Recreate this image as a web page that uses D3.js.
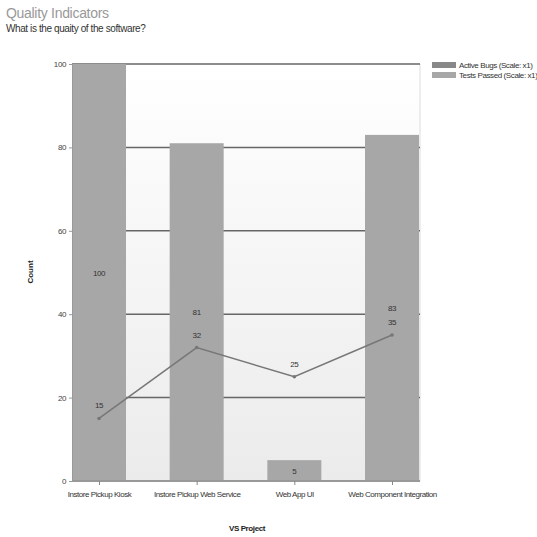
<!DOCTYPE html>
<html>
<head>
<meta charset="utf-8">
<script src="https://cdn.jsdelivr.net/npm/d3@7"></script>
<style>
  body { margin: 0; background: #fff; }
  text { font-family: "Liberation Sans", Arial, sans-serif; }
</style>
</head>
<body>
<svg id="chart" width="537" height="537"></svg>
<script>
// data
var projects = ["Instore Pickup Kiosk", "Instore Pickup Web Service", "Web App UI", "Web Component Integration"];
var testsPassed = [100, 81, 5, 83];
var activeBugs = [15, 32, 25, 35];
var yTicks = [0, 20, 40, 60, 80, 100];
var seriesNames = ["Active Bugs (Scale: x1)", "Tests Passed (Scale: x1)"];

var svg = d3.select("#chart");
var pLeft = 72, pRight = 420, pTop = 64, pBottom = 481;
var barW = 54;

var x = d3.scalePoint().domain(projects).range([pLeft + barW / 2, pRight - 1 - barW / 2]);
var y = d3.scaleLinear().domain([0, 100]).range([pBottom, pTop]);

// background gradient of the plot area
var grad = svg.append("defs").append("linearGradient")
    .attr("id", "bg").attr("x1", 0).attr("y1", 0).attr("x2", 0).attr("y2", 1);
grad.append("stop").attr("offset", "0%").attr("stop-color", "#ffffff");
grad.append("stop").attr("offset", "100%").attr("stop-color", "#ebebeb");

svg.append("rect")
    .attr("x", pLeft).attr("y", pTop)
    .attr("width", pRight - pLeft).attr("height", pBottom - pTop)
    .attr("fill", "url(#bg)");

svg.append("line")
    .attr("x1", pRight).attr("x2", pRight).attr("y1", pTop).attr("y2", pBottom)
    .attr("stroke", "#dddddd");

// gridlines
svg.selectAll(".grid")
    .data(yTicks.slice(1))
    .enter().append("line")
    .attr("class", "grid")
    .attr("x1", pLeft).attr("x2", pRight)
    .attr("y1", d => y(d)).attr("y2", d => y(d))
    .attr("stroke", "#666").attr("stroke-width", 1.5);

// bars
svg.selectAll(".bar")
    .data(testsPassed)
    .enter().append("rect")
    .attr("class", "bar")
    .attr("x", (d, i) => x(projects[i]) - barW / 2)
    .attr("y", d => y(d))
    .attr("width", barW)
    .attr("height", d => pBottom - y(d))
    .attr("fill", "#a7a7a7");

svg.selectAll(".barlabel")
    .data(testsPassed)
    .enter().append("text")
    .attr("class", "barlabel")
    .attr("x", (d, i) => x(projects[i]))
    .attr("y", d => y(d / 2) + 3)
    .attr("text-anchor", "middle")
    .attr("font-size", 8).attr("letter-spacing", -0.4).attr("fill", "#333")
    .text(d => d);

// axes
var yAxis = svg.append("g")
    .attr("transform", "translate(" + pLeft + ",0)")
    .call(d3.axisLeft(y).tickValues(yTicks).tickSize(3).tickFormat(d3.format("d")));
yAxis.select(".domain").attr("stroke", "#999");
yAxis.selectAll("line").attr("stroke", "#999");
yAxis.selectAll("text").attr("font-size", 8).attr("fill", "#444").attr("letter-spacing", -0.4)
    .style("font-family", "'Liberation Sans', sans-serif");

var xAxis = svg.append("g")
    .attr("transform", "translate(0," + pBottom + ")")
    .call(d3.axisBottom(x).tickSize(4).tickPadding(6));
xAxis.select(".domain").attr("stroke", "#999").attr("stroke-width", 2)
    .attr("d", "M" + pLeft + ",0H" + pRight);
xAxis.selectAll("line").attr("stroke", "#888");
xAxis.selectAll("text").attr("font-size", 8).attr("fill", "#333").attr("letter-spacing", -0.45)
    .style("font-family", "'Liberation Sans', sans-serif");

// line series
var line = d3.line()
    .x((d, i) => x(projects[i]))
    .y(d => y(d));

svg.append("path")
    .datum(activeBugs)
    .attr("d", line)
    .attr("fill", "none")
    .attr("stroke", "#777").attr("stroke-width", 1.5);

svg.selectAll(".pt")
    .data(activeBugs)
    .enter().append("circle")
    .attr("class", "pt")
    .attr("cx", (d, i) => x(projects[i]))
    .attr("cy", d => y(d))
    .attr("r", 1.8)
    .attr("fill", "#777");

svg.selectAll(".ptlabel")
    .data(activeBugs)
    .enter().append("text")
    .attr("class", "ptlabel")
    .attr("x", (d, i) => x(projects[i]))
    .attr("y", d => y(d) - 10)
    .attr("text-anchor", "middle")
    .attr("font-size", 8).attr("letter-spacing", -0.4).attr("fill", "#333")
    .text(d => d);

// axis titles
svg.append("text")
    .attr("transform", "translate(33,272) rotate(-90)")
    .attr("text-anchor", "middle")
    .attr("font-size", 8).attr("font-weight", "bold").attr("fill", "#222")
    .text("Count");

svg.append("text")
    .attr("x", 247).attr("y", 531)
    .attr("text-anchor", "middle")
    .attr("font-size", 8).attr("font-weight", "bold").attr("letter-spacing", -0.4).attr("fill", "#222")
    .text("VS Project");

// title
svg.append("text")
    .attr("x", 6).attr("y", 18)
    .attr("font-size", 14).attr("letter-spacing", -0.3).attr("fill", "#999")
    .text("Quality Indicators");

svg.append("text")
    .attr("x", 6).attr("y", 32)
    .attr("font-size", 10).attr("letter-spacing", -0.4).attr("fill", "#333")
    .text("What is the quaity of the software?");

// legend
var legColors = ["#888888", "#a7a7a7"];
var leg = svg.selectAll(".leg")
    .data(seriesNames)
    .enter().append("g")
    .attr("class", "leg")
    .attr("transform", (d, i) => "translate(432," + (62 + i * 10) + ")");
leg.append("rect")
    .attr("width", 24).attr("height", 6)
    .attr("fill", (d, i) => legColors[i]);
leg.append("text")
    .attr("x", 27).attr("y", 6)
    .attr("font-size", 8).attr("letter-spacing", -0.4).attr("fill", "#333")
    .text(d => d);
</script>
</body>
</html>
